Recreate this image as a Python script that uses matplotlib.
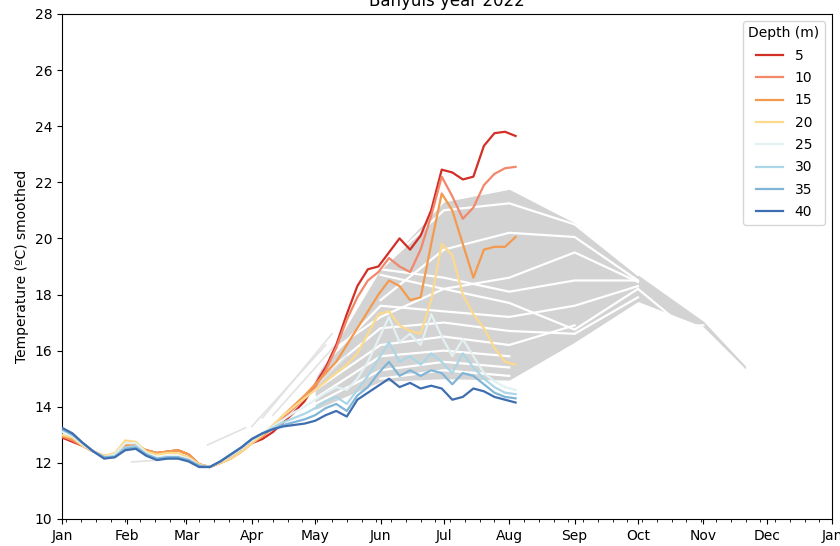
import numpy as np
import matplotlib
matplotlib.use("Agg")
import matplotlib.pyplot as plt
import matplotlib.dates as mdates

# ---- 2022 smoothed temperatures, one value every 5 days from 1 Jan ----
days = np.arange(0, 216, 5)
depths = [5, 10, 15, 20, 25, 30, 35, 40]

t5 = [12.9, 12.75, 12.6, 12.4, 12.2, 12.25, 12.55, 12.55, 12.45, 12.35,
      12.4, 12.45, 12.3, 11.95, 11.85, 12.0, 12.2, 12.45, 12.7, 12.85,
      13.1, 13.45, 13.8, 14.2, 14.8, 15.4, 16.2, 17.3, 18.3, 18.9,
      19.0, 19.5, 20.0, 19.6, 20.1, 21.0, 22.45, 22.35, 22.1, 22.2,
      23.3, 23.75, 23.8, 23.65]
t10 = [12.95, 12.8, 12.6, 12.4, 12.2, 12.3, 12.6, 12.6, 12.45, 12.35,
       12.4, 12.45, 12.3, 11.95, 11.85, 12.0, 12.15, 12.4, 12.7, 12.95,
       13.25, 13.6, 13.95, 14.3, 14.7, 15.3, 16.1, 17.1, 17.9, 18.5,
       18.8, 19.3, 19.0, 18.8, 19.6, 20.8, 22.2, 21.5, 20.7, 21.1,
       21.9, 22.3, 22.5, 22.55]
t15 = [12.95, 12.85, 12.6, 12.4, 12.25, 12.3, 12.65, 12.65, 12.45, 12.35,
       12.4, 12.45, 12.3, 11.95, 11.85, 12.0, 12.15, 12.4, 12.7, 12.95,
       13.3, 13.7, 14.05, 14.4, 14.8, 15.2, 15.6, 16.2, 16.8, 17.4,
       18.0, 18.5, 18.3, 17.8, 17.9, 19.8, 21.6, 21.0, 19.8, 18.6,
       19.6, 19.7, 19.7, 20.05]
t20 = [13.0, 12.9, 12.6, 12.4, 12.25, 12.35, 12.8, 12.75, 12.4, 12.3,
       12.35, 12.35, 12.2, 11.95, 11.85, 12.0, 12.15, 12.4, 12.7, 13.0,
       13.35, 13.7, 14.0, 14.3, 14.6, 14.9, 15.2, 15.5, 15.9, 16.6,
       17.3, 17.4, 16.9, 16.7, 16.6, 17.8, 19.8, 19.4, 18.0, 17.3,
       16.8, 16.1, 15.6, 15.5]
t25 = [13.1, 12.95, 12.65, 12.4, 12.2, 12.3, 12.7, 12.7, 12.35, 12.2,
       12.25, 12.25, 12.15, 11.9, 11.85, 12.05, 12.25, 12.5, 12.8, 13.05,
       13.3, 13.55, 13.8, 14.0, 14.25, 14.5, 14.7, 14.6, 15.0, 15.6,
       16.4, 17.2, 16.3, 16.6, 16.2, 17.3, 16.5, 15.8, 16.4, 15.8,
       15.2, 14.9, 14.7, 14.6]
t30 = [13.2, 13.0, 12.7, 12.4, 12.2, 12.25, 12.55, 12.6, 12.3, 12.15,
       12.2, 12.2, 12.1, 11.9, 11.85, 12.05, 12.3, 12.55, 12.85, 13.05,
       13.25, 13.45, 13.6, 13.75, 13.95, 14.2, 14.35, 14.1, 14.6, 15.1,
       15.7, 16.3, 15.6, 15.8, 15.5, 15.9, 15.6, 15.2, 15.9, 15.4,
       15.0, 14.7, 14.5, 14.45]
t35 = [13.2, 13.0, 12.7, 12.4, 12.2, 12.2, 12.5, 12.55, 12.3, 12.15,
       12.2, 12.2, 12.1, 11.9, 11.85, 12.05, 12.3, 12.55, 12.85, 13.05,
       13.2, 13.35, 13.45, 13.55, 13.7, 13.95, 14.1, 13.85, 14.4, 14.7,
       15.2, 15.6, 15.1, 15.3, 15.1, 15.3, 15.2, 14.8, 15.2, 15.1,
       14.8, 14.5, 14.35, 14.3]
t40 = [13.25, 13.05, 12.7, 12.4, 12.15, 12.2, 12.45, 12.5, 12.25, 12.1,
       12.15, 12.15, 12.05, 11.85, 11.85, 12.05, 12.3, 12.55, 12.85, 13.05,
       13.2, 13.3, 13.35, 13.4, 13.5, 13.7, 13.85, 13.65, 14.25, 14.5,
       14.75, 15.0, 14.7, 14.85, 14.65, 14.75, 14.65, 14.25, 14.35, 14.65,
       14.55, 14.35, 14.25, 14.15]
series = [t5, t10, t15, t20, t25, t30, t35, t40]
colors = ['#d22f27', '#f2876a', '#f49a4e', '#fdd98c',
          '#e3f1f3', '#abd6e6', '#80b5d7', '#3e6eb0']

# ---- climatology envelope (monthly nodes, day of year) ----
env_days = [120, 151, 181, 212, 243, 273, 304, 324]
env_upper = [15.0, 18.9, 21.3, 21.75, 20.55, 18.7, 17.05, 15.45]
env_lower = [13.9, 14.9, 15.0, 14.95, 16.3, 17.75, 16.85, 15.35]

# monthly climatology curves drawn inside the envelope
clim_days = [120, 151, 181, 212, 243, 273]
nan = np.nan
clim_curves = [
    [nan, 18.9, 21.0, 21.25, 20.5, 18.7],
    [nan, 17.8, 19.6, 20.2, 20.05, 18.5],
    [15.6, 17.2, 18.2, 18.6, 19.5, 18.45],
    [nan, 18.9, 18.6, 18.1, 18.5, 18.5],
    [nan, 18.7, 18.2, 17.7, 16.75, 18.2],
    [15.2, 17.6, 17.4, 17.2, 17.6, 18.3],
    [14.9, 16.8, 17.0, 16.7, 16.6, 17.9],
    [14.6, 16.2, 16.5, 16.2, 16.9, nan],
    [14.3, 15.8, 16.0, 15.8, nan, nan],
    [14.1, 15.3, 15.6, 15.4, nan, nan],
    [nan, 15.0, 15.3, 15.1, nan, nan],
]
tail_days = [273, 294, 304]
tail_vals = [18.2, 16.9, 16.9]

# thin early-season climatology traces
early_days = [[33, 46], [69, 87], [90, 125], [95, 128], [100, 132], [105, 135]]
early_vals = [[12.03, 12.1], [12.64, 13.25], [13.3, 16.2], [13.6, 16.6],
              [13.7, 16.4], [13.6, 15.8]]

base = np.datetime64('2022-01-01')


def to_dates(d):
    return base + np.array(d).astype('timedelta64[D]')


fig = plt.figure(figsize=(8.4, 5.46), dpi=100)
ax = fig.add_axes([0.0738, 0.0495, 0.9167, 0.925])

ax.fill_between(to_dates(env_days), env_lower, env_upper,
                color='#d3d3d3', lw=0, zorder=1)
for c in clim_curves:
    ax.plot(to_dates(clim_days), c, color='white', lw=1.6, zorder=2)
ax.plot(to_dates(tail_days), tail_vals, color='white', lw=1.6, zorder=2)
for d, v in zip(early_days, early_vals):
    ax.plot(to_dates(d), v, color='#e2e2e2', lw=1.2, zorder=2)

x = to_dates(days)
for dep, vals, col in zip(depths, series, colors):
    ax.plot(x, vals, color=col, lw=1.6, label=str(dep), zorder=3)

ax.set_xlim(np.datetime64('2022-01-01'), np.datetime64('2023-01-01'))
ax.set_ylim(10, 28)
ax.set_yticks(np.arange(10, 29, 2))
ax.xaxis.set_major_locator(mdates.MonthLocator())
ax.xaxis.set_major_formatter(mdates.DateFormatter('%b'))
ax.xaxis.set_minor_locator(mdates.WeekdayLocator(byweekday=mdates.MO))
ax.tick_params(labelsize=10)

ax.set_ylabel('Temperature (ºC) smoothed', fontsize=10)
ax.set_title('Banyuls year 2022', fontsize=12)
ax.legend(title='Depth (m)', loc='upper right', fontsize=10, title_fontsize=10,
          labelspacing=0.6)

fig.savefig('out.png', dpi=100)
